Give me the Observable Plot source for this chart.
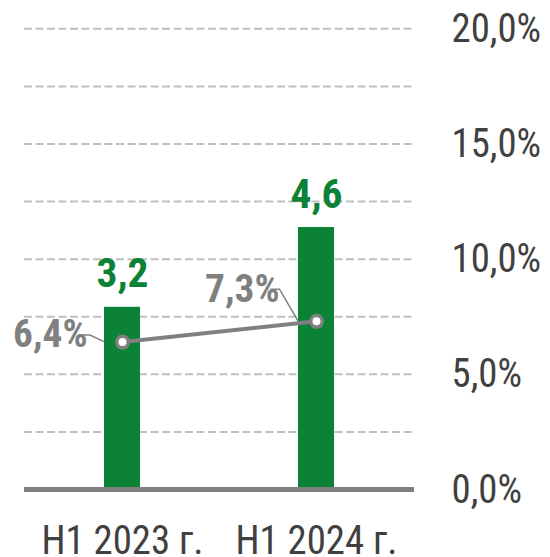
<!DOCTYPE html>
<html><head><meta charset="utf-8">
<script src="https://cdn.jsdelivr.net/npm/d3@7"></script>
<script src="https://cdn.jsdelivr.net/npm/@observablehq/plot@0.6"></script>
<style>html,body{margin:0;padding:0;background:#fff} svg{display:block}</style>
</head><body><div id="chart"></div>
<script>
// ---- data ----
const periods = ["H1 2023 г.", "H1 2024 г."];
const barValues = [3.2, 4.6];
const barLabels = ["3,2", "4,6"];
const ratePct = [6.4, 7.3];
const rateLabels = ["6,4%", "7,3%"];
const yTicks = [0, 5, 10, 15, 20];
const yTickLabels = ["0,0%", "5,0%", "10,0%", "15,0%", "20,0%"];
const gridTicks = [2.5, 5, 7.5, 10, 12.5, 15, 17.5, 20];

// hidden secondary axis for bars: 0..barAxisMax maps onto 0..20%
const barAxisMax = 8.09;
const k = 20 / barAxisMax;

const bars = periods.map((p, i) => ({period: p, y: barValues[i] * k, label: barLabels[i]}));
const rates = periods.map((p, i) => ({period: p, value: ratePct[i], label: rateLabels[i]}));

// ---- layout (annotation offsets in px) ----
const labelLayout = [
  {dx: -35, dy: 5, lx1: -26, lx2: -14, ly: -6.6},
  {dx: -37, dy: -19.3, lx1: -27.5, lx2: -18.5, ly: -31.6}
];
const GREEN = "#0b8236", GREY = "#808080", TEXT = "#404040";

const marks = [
  Plot.ruleY(gridTicks, {stroke: "#bfbfbf", strokeWidth: 2, strokeDasharray: "8,3.5"}),
  Plot.barY(bars, {x: "period", y: "y", fill: GREEN}),
  Plot.ruleY([0], {stroke: GREY, strokeWidth: 5}),
  Plot.line(rates, {x: "period", y: "value", stroke: GREY, strokeWidth: 4}),
  Plot.dot(rates, {x: "period", y: "value", r: 0, render: (index, scales, values) => {
    const g = d3.create("svg:g");
    for (const i of index) {
      const cx = values.x[i], cy = values.y[i], o = labelLayout[i];
      g.append("polyline")
        .attr("points", `${cx + o.lx1},${cy + o.ly} ${cx + o.lx2},${cy + o.ly} ${cx},${cy}`)
        .attr("fill", "none").attr("stroke", GREY).attr("stroke-width", 1.5);
    }
    return g.node();
  }}),
  Plot.dot(rates, {x: "period", y: "value", r: 5.75, fill: "white", stroke: GREY, strokeWidth: 3.5}),
  Plot.text(bars, {x: "period", y: "y", text: "label", lineAnchor: "bottom", dy: -20,
    fill: GREEN, fontWeight: "bold", fontSize: 40}),
  ...rates.map((d, i) => Plot.text([d], {x: "period", y: "value", text: "label",
    textAnchor: "end", lineAnchor: "bottom", dx: labelLayout[i].dx, dy: labelLayout[i].dy,
    fill: GREY, fontWeight: "bold", fontSize: 38})),
  Plot.axisY(yTicks, {anchor: "right", tickSize: 0, tickPadding: 37, label: null,
    tickFormat: d => yTickLabels[yTicks.indexOf(d)], fontSize: 41, fill: TEXT, textAnchor: "start"}),
  Plot.axisX({tickSize: 0, tickPadding: 35, label: null, fontSize: 41, fill: TEXT})
];

const chart = Plot.plot({
  width: 550,
  height: 557,
  marginTop: 28.3,
  marginBottom: 68,
  marginLeft: 24,
  marginRight: 136,
  style: {fontFamily: "'Roboto Condensed', Roboto, sans-serif", background: "#fff"},
  x: {domain: periods, paddingInner: 0.812, paddingOuter: 0.407, label: null},
  y: {domain: [0, 20], nice: false, label: null},
  marks
});
document.getElementById("chart").appendChild(chart);

// fine-tune glyph widths to the reference's proportions
chart.querySelectorAll("text").forEach(t => {
  const bold = +getComputedStyle(t).fontWeight >= 600;
  const len = t.getComputedTextLength();
  if (len > 0) {
    t.setAttribute("textLength", (len * (bold ? 1.035 : 0.945)).toFixed(2));
    t.setAttribute("lengthAdjust", "spacingAndGlyphs");
  }
});
</script></body></html>
